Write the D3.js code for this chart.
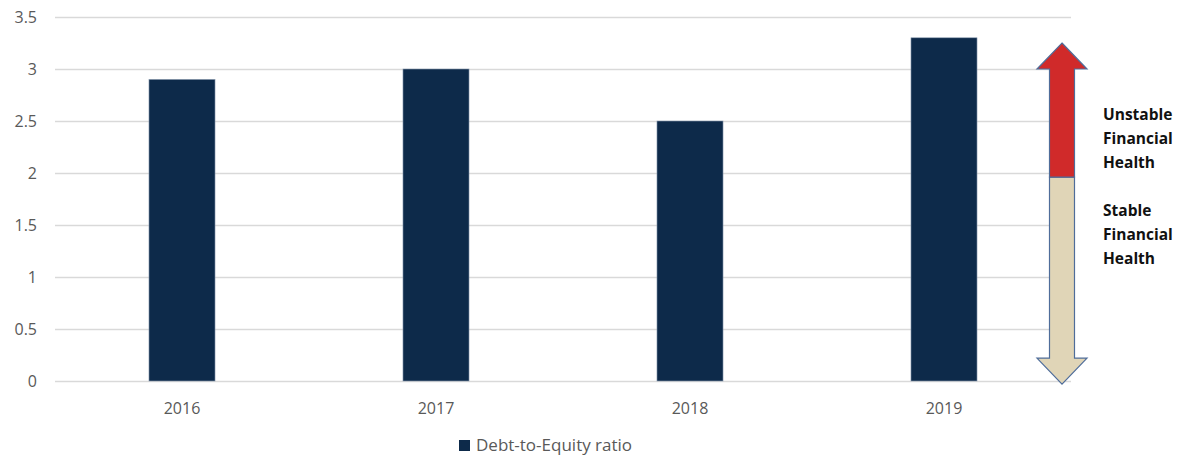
<!DOCTYPE html>
<html>
<head>
<meta charset="utf-8">
<script src="https://cdn.jsdelivr.net/npm/d3@7"></script>
<style>
  body { margin: 0; background: #fff; }
  text { font-family: "Open Sans", "Liberation Sans", sans-serif; }
</style>
</head>
<body>
<div id="chart"></div>
<script>
// data
var years = ["2016", "2017", "2018", "2019"];
var ratios = [2.9, 3.0, 2.5, 3.3];
var yTicks = [0, 0.5, 1, 1.5, 2, 2.5, 3, 3.5];
var seriesName = "Debt-to-Equity ratio";

// arrow on the right: tips and the point where red turns beige
var arrowTop = 3.25, arrowSplit = 1.96, arrowBottom = -0.03;
var unstableLines = ["Unstable", "Financial", "Health"];
var stableLines = ["Stable", "Financial", "Health"];

var width = 1181, height = 456;
var svg = d3.select("#chart").append("svg")
  .attr("width", width)
  .attr("height", height);

var x = d3.scaleBand().domain(years).range([55, 1071]).paddingInner(0.74).paddingOuter(0.37);
var y = d3.scaleLinear().domain([0, 3.5]).range([381, 17]);

// gridlines
svg.append("g")
  .selectAll("line")
  .data(yTicks)
  .enter().append("line")
  .attr("x1", 55).attr("x2", 1071)
  .attr("y1", function(d) { return Math.round(y(d)) + 0.5; })
  .attr("y2", function(d) { return Math.round(y(d)) + 0.5; })
  .attr("stroke", "#d9d9d9")
  .attr("stroke-width", 1.3);

// y labels
svg.append("g")
  .selectAll("text")
  .data(yTicks)
  .enter().append("text")
  .attr("x", 37)
  .attr("y", function(d) { return y(d) + 5.5; })
  .attr("text-anchor", "end")
  .attr("font-size", 16)
  .attr("fill", "#595959")
  .text(function(d) { return d; });

// bars
svg.append("g")
  .selectAll("rect")
  .data(ratios)
  .enter().append("rect")
  .attr("x", function(d, i) { return x(years[i]); })
  .attr("width", x.bandwidth())
  .attr("y", function(d) { return y(d); })
  .attr("height", function(d) { return y(0) - y(d); })
  .attr("fill", "#0d2a4a")
  .attr("stroke", "#8a9bb0")
  .attr("stroke-width", 0.6);

// x labels
svg.append("g")
  .selectAll("text")
  .data(years)
  .enter().append("text")
  .attr("x", function(d) { return x(d) + x.bandwidth() / 2; })
  .attr("y", 414)
  .attr("text-anchor", "middle")
  .attr("font-size", 16)
  .attr("fill", "#595959")
  .text(function(d) { return d; });

// double arrow
var cx = 1062, shaftHalf = 12.5, headHalf = 25, headLen = 26;
var yTop = y(arrowTop), ySplit = y(arrowSplit), yBot = y(arrowBottom);

var upper = [
  [cx, yTop], [cx + headHalf, yTop + headLen], [cx + shaftHalf, yTop + headLen],
  [cx + shaftHalf, ySplit], [cx - shaftHalf, ySplit], [cx - shaftHalf, yTop + headLen],
  [cx - headHalf, yTop + headLen]
];
var lower = [
  [cx - shaftHalf, ySplit], [cx + shaftHalf, ySplit], [cx + shaftHalf, yBot - headLen],
  [cx + headHalf, yBot - headLen], [cx, yBot], [cx - headHalf, yBot - headLen],
  [cx - shaftHalf, yBot - headLen]
];
var line = d3.line();
svg.append("path")
  .attr("d", line(lower) + "Z")
  .attr("fill", "#e0d5b7")
  .attr("stroke", "#4f6d9a")
  .attr("stroke-width", 1.2);
svg.append("path")
  .attr("d", line(upper) + "Z")
  .attr("fill", "#d02a2a")
  .attr("stroke", "#4f6d9a")
  .attr("stroke-width", 1.2);

// labels next to the arrow
function block(lines, top) {
  svg.append("g")
    .selectAll("text")
    .data(lines)
    .enter().append("text")
    .attr("x", 1103)
    .attr("y", function(d, i) { return top + i * 24; })
    .attr("font-size", 15.5)
    .attr("font-weight", "bold")
    .attr("fill", "#111")
    .text(function(d) { return d; });
}
block(unstableLines, 120);
block(stableLines, 216);

// legend
var legend = svg.append("g");
legend.append("rect")
  .attr("x", 459).attr("y", 440)
  .attr("width", 11).attr("height", 11)
  .attr("fill", "#0d2a4a");
legend.append("text")
  .attr("x", 476).attr("y", 451)
  .attr("font-size", 17)
  .attr("fill", "#595959")
  .text(seriesName);
</script>
</body>
</html>
